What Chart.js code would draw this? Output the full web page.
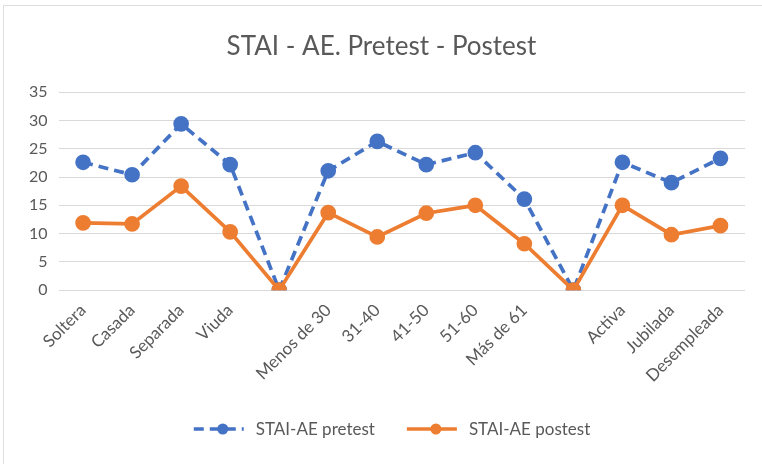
<!DOCTYPE html>
<html>
<head>
<meta charset="utf-8">
<script src="https://cdn.jsdelivr.net/npm/chart.js@4"></script>
<style>
html,body{margin:0;padding:0;background:#fff;}
#wrap{position:absolute;left:0;top:0;width:762px;height:464px;}
#frame{position:absolute;left:3px;top:5px;width:770px;height:470px;border-left:1px solid #dedede;border-top:1px solid #dedede;}
canvas{position:absolute;left:0;top:0;}
</style>
</head>
<body>
<div id="wrap">
<div id="frame"></div>
<canvas id="c" width="762" height="464"></canvas>
</div>
<script>
const categories = ["Soltera","Casada","Separada","Viuda","","Menos de 30","31-40","41-50","51-60","Más de 61","","Activa","Jubilada","Desempleada"];
const pretest = [22.6,20.4,29.4,22.2,0,21.1,26.3,22.2,24.3,16.1,0,22.6,19.0,23.3];
const postest = [11.9,11.7,18.4,10.3,0,13.7,9.4,13.6,15.0,8.2,0,15.0,9.8,11.4];
const yTicks = [0,5,10,15,20,25,30,35];
const seriesNames = ["STAI-AE pretest","STAI-AE postest"];

const BLUE = "#4472c4", ORANGE = "#ed7d31", TXT = "#595959";
const FONT = "Lato, 'Open Sans', sans-serif";

const legendPlugin = {
  id: "customLegend",
  afterDraw(chart) {
    const ctx = chart.ctx;
    const ds = chart.data.datasets;
    ctx.save();
    ctx.font = "17px " + FONT;
    const lineW = 50, gapT = 12, gapItems = 32;
    const widths = ds.map(d => lineW + gapT + ctx.measureText(d.label).width);
    const total = widths.reduce((a,b)=>a+b,0) + gapItems*(ds.length-1);
    let x = chart.width/2 + 11 - total/2;
    const y = 429;
    ds.forEach((d,i) => {
      ctx.strokeStyle = d.borderColor;
      ctx.lineWidth = 3.5;
      ctx.setLineDash(d.borderDash || []);
      ctx.beginPath(); ctx.moveTo(x, y); ctx.lineTo(x+lineW, y); ctx.stroke();
      ctx.setLineDash([]);
      ctx.fillStyle = d.pointBackgroundColor;
      ctx.beginPath(); ctx.arc(x+lineW/2+4, y, 5.5, 0, Math.PI*2); ctx.fill();
      ctx.fillStyle = TXT;
      ctx.textBaseline = "middle";
      ctx.textAlign = "left";
      ctx.fillText(d.label, x+lineW+gapT, y+1);
      x += widths[i] + gapItems;
    });
    ctx.restore();
  }
};

new Chart(document.getElementById("c"), {
  type: "line",
  data: {
    labels: categories,
    datasets: [
      { label: seriesNames[0], data: pretest, borderColor: BLUE, backgroundColor: BLUE, order: 1,
        pointBackgroundColor: BLUE, pointBorderColor: BLUE, borderWidth: 3.7, borderDash: [10,6],
        pointRadius: 6, pointHoverRadius: 6, tension: 0 },
      { label: seriesNames[1], data: postest, borderColor: ORANGE, backgroundColor: ORANGE, order: 0,
        pointBackgroundColor: ORANGE, pointBorderColor: ORANGE, borderWidth: 3.7,
        pointRadius: 6, pointHoverRadius: 6, tension: 0 }
    ]
  },
  options: {
    responsive: false,
    animation: false,
    layout: { padding: { left: 18, right: 17, top: 8, bottom: 68 } },
    plugins: {
      legend: { display: false },
      tooltip: { enabled: false },
      title: { display: true, text: "STAI - AE. Pretest - Postest", color: TXT,
        font: { family: FONT, size: 26, weight: "normal" }, padding: { top: 23, bottom: 30 } }
    },
    scales: {
      y: {
        min: 0, max: 35,
        afterBuildTicks(axis) { axis.ticks = yTicks.map(v => ({ value: v })); },
        ticks: { color: TXT, font: { family: FONT, size: 16 }, padding: 11 },
        grid: { color: "#d9d9d9", lineWidth: 1, drawTicks: false },
        border: { display: false }
      },
      x: {
        offset: true,
        ticks: { color: TXT, font: { family: FONT, size: 17 }, minRotation: 45, maxRotation: 45, autoSkip: false, padding: 10 },
        grid: { display: false, drawTicks: false },
        border: { display: false }
      }
    }
  },
  plugins: [legendPlugin]
});
</script>
</body>
</html>
